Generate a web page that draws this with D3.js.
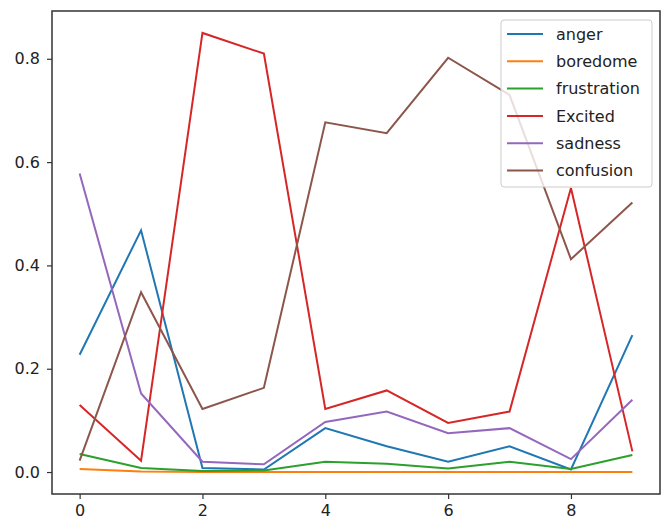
<!DOCTYPE html>
<html>
<head>
<meta charset="utf-8">
<script src="https://cdn.jsdelivr.net/npm/d3@7"></script>
<style>
  body { margin: 0; background: #fff; }
  svg { display: block; font-family: "DejaVu Sans", sans-serif; }
</style>
</head>
<body>
<svg width="665" height="522"></svg>
<script>
const width = 665;
const height = 522;

// data
var steps = [0, 1, 2, 3, 4, 5, 6, 7, 8, 9];
var names = ["anger", "boredome", "frustration", "Excited", "sadness", "confusion"];
var colors = ["#1f77b4", "#ff7f0e", "#2ca02c", "#d62728", "#9467bd", "#8c564b"];

var anger       = [0.227, 0.468, 0.008, 0.005, 0.085, 0.050, 0.020, 0.050, 0.005, 0.265];
var boredome    = [0.006, 0.001, 0.000, 0.000, 0.000, 0.000, 0.000, 0.000, 0.000, 0.000];
var frustration = [0.035, 0.008, 0.002, 0.003, 0.020, 0.016, 0.007, 0.020, 0.006, 0.033];
var excited     = [0.130, 0.022, 0.850, 0.810, 0.122, 0.158, 0.095, 0.117, 0.550, 0.040];
var sadness     = [0.578, 0.152, 0.020, 0.015, 0.097, 0.117, 0.075, 0.085, 0.025, 0.140];
var confusion   = [0.022, 0.348, 0.122, 0.163, 0.677, 0.656, 0.802, 0.730, 0.412, 0.522];

var xTicks = [0, 2, 4, 6, 8];
var yTicks = [0.0, 0.2, 0.4, 0.6, 0.8];

var series = [anger, boredome, frustration, excited, sadness, confusion];

var margin = {left: 52, top: 11, right: 5, bottom: 28};
var svg = d3.select("svg");

var x = d3.scaleLinear().domain([-0.45, 9.45]).range([margin.left, width - margin.right]);
var y = d3.scaleLinear().domain([-0.0425, 0.8925]).range([height - margin.bottom, margin.top]);

var line = d3.line()
    .x(function (d, i) { return x(steps[i]); })
    .y(function (d) { return y(d); });

svg.selectAll("path.series")
  .data(series)
  .enter().append("path")
    .attr("class", "series")
    .attr("d", line)
    .attr("fill", "none")
    .attr("stroke", function (d, i) { return colors[i]; })
    .attr("stroke-width", 2);

// axes
var xAxis = svg.append("g")
    .attr("transform", "translate(0," + (height - margin.bottom) + ")")
    .call(d3.axisBottom(x).tickValues(xTicks).tickFormat(d3.format("d")).tickSize(5).tickPadding(6));
var yAxis = svg.append("g")
    .attr("transform", "translate(" + margin.left + ",0)")
    .call(d3.axisLeft(y).tickValues(yTicks).tickFormat(d3.format(".1f")).tickSize(5).tickPadding(7));

[xAxis, yAxis].forEach(function (g) {
  g.select(".domain").remove();
  g.selectAll("line").attr("stroke", "#333").attr("stroke-width", 1.2);
  g.selectAll("text").attr("fill", "#222").style("font-size", "16px").style("font-family", "DejaVu Sans");
});

// frame
svg.append("rect")
    .attr("x", margin.left)
    .attr("y", margin.top)
    .attr("width", width - margin.left - margin.right)
    .attr("height", height - margin.top - margin.bottom)
    .attr("fill", "none")
    .attr("stroke", "#333")
    .attr("stroke-width", 1.5);

// legend
var legend = svg.append("g").attr("transform", "translate(501,20)");
legend.append("rect")
    .attr("width", 151)
    .attr("height", 167)
    .attr("rx", 3)
    .attr("fill", "#fff")
    .attr("fill-opacity", 0.8)
    .attr("stroke", "#ccc")
    .attr("stroke-width", 1);

var item = legend.selectAll("g.item")
  .data(names)
  .enter().append("g")
    .attr("class", "item")
    .attr("transform", function (d, i) { return "translate(0," + (14 + i * 27.3) + ")"; });
item.append("line")
    .attr("x1", 6).attr("x2", 42)
    .attr("stroke", function (d, i) { return colors[i]; })
    .attr("stroke-width", 2);
item.append("text")
    .attr("x", 55)
    .attr("dy", "0.35em")
    .attr("fill", "#222")
    .style("font-size", "16px")
    .text(function (d) { return d; });
</script>
</body>
</html>
